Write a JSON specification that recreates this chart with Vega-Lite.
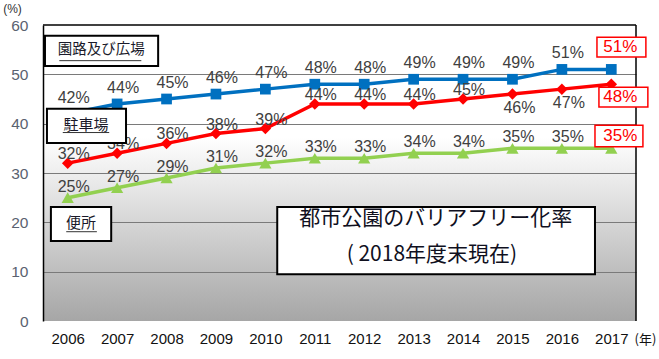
{
  "$schema": "https://vega.github.io/schema/vega-lite/v6.json",
  "width": 593,
  "height": 296,
  "autosize": {"type": "none"},
  "padding": {"left": 43, "top": 25, "right": 23, "bottom": 38},
  "background": "white",
  "view": {
    "stroke": null,
    "fill": {"gradient": "linear", "x1": 0, "y1": 0, "x2": 0, "y2": 1,
      "stops": [{"offset": 0, "color": "#ffffff"}, {"offset": 0.38, "color": "#ffffff"}, {"offset": 1, "color": "#a6a6a6"}]}
  },
  "config": {"font": "Liberation Sans"},
  "data": {"values": [
    {"year": 2006, "series": "園路及び広場", "value": 42, "label": "42%"},
    {"year": 2007, "series": "園路及び広場", "value": 44, "label": "44%"},
    {"year": 2008, "series": "園路及び広場", "value": 45, "label": "45%"},
    {"year": 2009, "series": "園路及び広場", "value": 46, "label": "46%"},
    {"year": 2010, "series": "園路及び広場", "value": 47, "label": "47%"},
    {"year": 2011, "series": "園路及び広場", "value": 48, "label": "48%"},
    {"year": 2012, "series": "園路及び広場", "value": 48, "label": "48%"},
    {"year": 2013, "series": "園路及び広場", "value": 49, "label": "49%"},
    {"year": 2014, "series": "園路及び広場", "value": 49, "label": "49%"},
    {"year": 2015, "series": "園路及び広場", "value": 49, "label": "49%"},
    {"year": 2016, "series": "園路及び広場", "value": 51, "label": "51%"},
    {"year": 2017, "series": "園路及び広場", "value": 51, "label": "51%"},
    {"year": 2006, "series": "駐車場", "value": 32, "label": "32%"},
    {"year": 2007, "series": "駐車場", "value": 34, "label": "34%"},
    {"year": 2008, "series": "駐車場", "value": 36, "label": "36%"},
    {"year": 2009, "series": "駐車場", "value": 38, "label": "38%"},
    {"year": 2010, "series": "駐車場", "value": 39, "label": "39%"},
    {"year": 2011, "series": "駐車場", "value": 44, "label": "44%"},
    {"year": 2012, "series": "駐車場", "value": 44, "label": "44%"},
    {"year": 2013, "series": "駐車場", "value": 44, "label": "44%"},
    {"year": 2014, "series": "駐車場", "value": 45, "label": "45%"},
    {"year": 2015, "series": "駐車場", "value": 46, "label": "46%"},
    {"year": 2016, "series": "駐車場", "value": 47, "label": "47%"},
    {"year": 2017, "series": "駐車場", "value": 48, "label": "48%"},
    {"year": 2006, "series": "便所", "value": 25, "label": "25%"},
    {"year": 2007, "series": "便所", "value": 27, "label": "27%"},
    {"year": 2008, "series": "便所", "value": 29, "label": "29%"},
    {"year": 2009, "series": "便所", "value": 31, "label": "31%"},
    {"year": 2010, "series": "便所", "value": 32, "label": "32%"},
    {"year": 2011, "series": "便所", "value": 33, "label": "33%"},
    {"year": 2012, "series": "便所", "value": 33, "label": "33%"},
    {"year": 2013, "series": "便所", "value": 34, "label": "34%"},
    {"year": 2014, "series": "便所", "value": 34, "label": "34%"},
    {"year": 2015, "series": "便所", "value": 35, "label": "35%"},
    {"year": 2016, "series": "便所", "value": 35, "label": "35%"},
    {"year": 2017, "series": "便所", "value": 35, "label": "35%"}
  ]},
  "layer": [
    {
      "mark": {"type": "line", "strokeWidth": 3.5},
      "encoding": {
        "x": {"field": "year", "type": "quantitative",
          "scale": {"domain": [2005.5, 2017.5], "nice": false, "zero": false},
          "axis": {"values": [2006, 2007, 2008, 2009, 2010, 2011, 2012, 2013, 2014, 2015, 2016, 2017], "format": "d",
            "labelFontSize": 15, "labelColor": "#111111", "labelPadding": 10, "ticks": false, "domain": false, "grid": false,
            "title": "(年)", "titleX": 602, "titleY": 18, "titleAlign": "center", "titleBaseline": "middle",
            "titleFont": "Noto Sans CJK JP", "titleFontSize": 13, "titleFontWeight": "normal", "titleColor": "#111111"}},
        "y": {"field": "value", "type": "quantitative",
          "scale": {"domain": [0, 60], "nice": false},
          "axis": {"values": [0, 10, 20, 30, 40, 50, 60], "labelFontSize": 15.5, "labelColor": "#5a6270", "labelPadding": 15,
            "ticks": false, "domain": true, "domainColor": "#000000", "domainWidth": 1.5,
            "grid": true, "gridColor": "#7a7a7a", "gridWidth": 1.2,
            "gridOpacity": {"condition": {"test": "datum.value == 0 || datum.value == 60", "value": 0}, "value": 1},
            "title": "(%)", "titleAngle": 0, "titleX": -31, "titleY": -17, "titleAlign": "center", "titleBaseline": "middle",
            "titleFontSize": 12, "titleFontWeight": "normal", "titleColor": "#333333"}},
        "color": {"field": "series", "type": "nominal",
          "scale": {"domain": ["園路及び広場", "駐車場", "便所"], "range": ["#0070C0", "#FF0000", "#92D050"]}, "legend": null}
      }
    },
    {
      "mark": {"type": "point", "filled": true, "opacity": 1},
      "encoding": {
        "x": {"field": "year", "type": "quantitative"},
        "y": {"field": "value", "type": "quantitative"},
        "color": {"field": "series", "type": "nominal", "legend": null},
        "shape": {"field": "series", "type": "nominal", "scale": {"domain": ["園路及び広場", "駐車場", "便所"], "range": ["square", "diamond", "triangle-up"]}, "legend": null},
        "size": {"field": "series", "type": "nominal", "scale": {"domain": ["園路及び広場", "駐車場", "便所"], "range": [115, 150, 140]}, "legend": null}
      }
    },
    {
      "data": {"values": [{}]},
      "mark": {"type": "rule", "color": "#000000", "strokeWidth": 1.5},
      "encoding": {"y": {"datum": 60, "type": "quantitative"}}
    },
    {
      "data": {"values": [{}]},
      "mark": {"type": "rule", "color": "#000000", "strokeWidth": 1.5},
      "encoding": {"x": {"datum": 2017.5, "type": "quantitative"}}
    },
    {
      "transform": [{"filter": "datum.series == '園路及び広場' && datum.year < 2017"}],
      "mark": {"type": "text", "fontSize": 16, "color": "#404040", "dx": 6, "dy": -16, "baseline": "middle"},
      "encoding": {"x": {"field": "year", "type": "quantitative"}, "y": {"field": "value", "type": "quantitative"}, "text": {"field": "label"}}
    },
    {
      "transform": [{"filter": "datum.series == '駐車場' && datum.year <= 2014"}],
      "mark": {"type": "text", "fontSize": 16, "color": "#404040", "dx": 6, "dy": -9, "baseline": "middle"},
      "encoding": {"x": {"field": "year", "type": "quantitative"}, "y": {"field": "value", "type": "quantitative"}, "text": {"field": "label"}}
    },
    {
      "transform": [{"filter": "datum.series == '駐車場' && (datum.year == 2015 || datum.year == 2016)"}],
      "mark": {"type": "text", "fontSize": 16, "color": "#404040", "dx": 7, "dy": 14, "baseline": "middle"},
      "encoding": {"x": {"field": "year", "type": "quantitative"}, "y": {"field": "value", "type": "quantitative"}, "text": {"field": "label"}}
    },
    {
      "transform": [{"filter": "datum.series == '便所' && datum.year < 2017"}],
      "mark": {"type": "text", "fontSize": 16, "color": "#404040", "dx": 6, "dy": -11, "baseline": "middle"},
      "encoding": {"x": {"field": "year", "type": "quantitative"}, "y": {"field": "value", "type": "quantitative"}, "text": {"field": "label"}}
    },
    {
      "data": {"values": [{}]},
      "mark": {"type": "rect", "fill": "#ffffff", "stroke": "#FF0000", "strokeWidth": 1.5},
      "encoding": {"x": {"datum": 2016.71, "type": "quantitative"}, "x2": {"datum": 2017.7}, "y": {"datum": 53.5, "type": "quantitative"}, "y2": {"datum": 57.5}}
    },
    {
      "data": {"values": [{}]},
      "mark": {"type": "rect", "fill": "#ffffff", "stroke": "#FF0000", "strokeWidth": 1.5},
      "encoding": {"x": {"datum": 2016.75, "type": "quantitative"}, "x2": {"datum": 2017.74}, "y": {"datum": 43.4, "type": "quantitative"}, "y2": {"datum": 47.4}}
    },
    {
      "data": {"values": [{}]},
      "mark": {"type": "rect", "fill": "#ffffff", "stroke": "#FF0000", "strokeWidth": 1.5},
      "encoding": {"x": {"datum": 2016.67, "type": "quantitative"}, "x2": {"datum": 2017.64}, "y": {"datum": 35.3, "type": "quantitative"}, "y2": {"datum": 39.7}}
    },
    {
      "transform": [{"filter": "datum.series == '園路及び広場' && datum.year == 2017"}],
      "mark": {"type": "text", "fontSize": 17, "color": "#FF0000", "dx": 9, "dy": -22, "baseline": "middle"},
      "encoding": {"x": {"field": "year", "type": "quantitative"}, "y": {"field": "value", "type": "quantitative"}, "text": {"field": "label"}}
    },
    {
      "transform": [{"filter": "datum.series == '駐車場' && datum.year == 2017"}],
      "mark": {"type": "text", "fontSize": 17, "color": "#FF0000", "dx": 9, "dy": 13, "baseline": "middle"},
      "encoding": {"x": {"field": "year", "type": "quantitative"}, "y": {"field": "value", "type": "quantitative"}, "text": {"field": "label"}}
    },
    {
      "transform": [{"filter": "datum.series == '便所' && datum.year == 2017"}],
      "mark": {"type": "text", "fontSize": 17, "color": "#FF0000", "dx": 9, "dy": -12, "baseline": "middle"},
      "encoding": {"x": {"field": "year", "type": "quantitative"}, "y": {"field": "value", "type": "quantitative"}, "text": {"field": "label"}}
    },
    {
      "data": {"values": [{}]},
      "mark": {"type": "rect", "fill": "#ffffff", "stroke": "#000000", "strokeWidth": 2},
      "encoding": {"x": {"datum": 2005.54, "type": "quantitative"}, "x2": {"datum": 2007.83}, "y": {"datum": 51.7, "type": "quantitative"}, "y2": {"datum": 57.8}}
    },
    {
      "data": {"values": [{}]},
      "mark": {"type": "text", "text": "園路及び広場", "font": "Noto Sans CJK JP", "fontSize": 14.5, "color": "#1a1a2a", "align": "center", "baseline": "middle"},
      "encoding": {"x": {"datum": 2006.68, "type": "quantitative"}, "y": {"datum": 54.9, "type": "quantitative"}}
    },
    {
      "data": {"values": [{}]},
      "mark": {"type": "rule", "color": "#333333", "strokeWidth": 1},
      "encoding": {"x": {"datum": 2005.83, "type": "quantitative"}, "x2": {"datum": 2007.49}, "y": {"datum": 52.77, "type": "quantitative"}}
    },
    {
      "data": {"values": [{}]},
      "mark": {"type": "rect", "fill": "#ffffff", "stroke": "#000000", "strokeWidth": 2},
      "encoding": {"x": {"datum": 2005.58, "type": "quantitative"}, "x2": {"datum": 2007.18}, "y": {"datum": 36.1, "type": "quantitative"}, "y2": {"datum": 43.0}}
    },
    {
      "data": {"values": [{}]},
      "mark": {"type": "text", "text": "駐車場", "font": "Noto Sans CJK JP", "fontSize": 15, "color": "#1a1a2a", "align": "center", "baseline": "middle"},
      "encoding": {"x": {"datum": 2006.37, "type": "quantitative"}, "y": {"datum": 39.8, "type": "quantitative"}}
    },
    {
      "data": {"values": [{}]},
      "mark": {"type": "rule", "color": "#333333", "strokeWidth": 1},
      "encoding": {"x": {"datum": 2005.9, "type": "quantitative"}, "x2": {"datum": 2006.84}, "y": {"datum": 38.2, "type": "quantitative"}}
    },
    {
      "data": {"values": [{}]},
      "mark": {"type": "rect", "fill": "#ffffff", "stroke": "#000000", "strokeWidth": 2},
      "encoding": {"x": {"datum": 2005.66, "type": "quantitative"}, "x2": {"datum": 2006.88}, "y": {"datum": 16.2, "type": "quantitative"}, "y2": {"datum": 23.1}}
    },
    {
      "data": {"values": [{}]},
      "mark": {"type": "text", "text": "便所", "font": "Noto Sans CJK JP", "fontSize": 15, "color": "#1a1a2a", "align": "center", "baseline": "middle"},
      "encoding": {"x": {"datum": 2006.27, "type": "quantitative"}, "y": {"datum": 19.9, "type": "quantitative"}}
    },
    {
      "data": {"values": [{}]},
      "mark": {"type": "rule", "color": "#333333", "strokeWidth": 1},
      "encoding": {"x": {"datum": 2005.97, "type": "quantitative"}, "x2": {"datum": 2006.59}, "y": {"datum": 18.1, "type": "quantitative"}}
    },
    {
      "data": {"values": [{}]},
      "mark": {"type": "rect", "fill": "#ffffff", "stroke": "#000000", "strokeWidth": 2},
      "encoding": {"x": {"datum": 2010.24, "type": "quantitative"}, "x2": {"datum": 2016.67}, "y": {"datum": 9.5, "type": "quantitative"}, "y2": {"datum": 23.1}}
    },
    {
      "data": {"values": [{}]},
      "mark": {"type": "text", "text": "都市公園のバリアフリー化率", "font": "Noto Sans CJK JP", "fontSize": 21, "color": "#10101e", "align": "center", "baseline": "middle"},
      "encoding": {"x": {"datum": 2013.45, "type": "quantitative"}, "y": {"datum": 20.6, "type": "quantitative"}}
    },
    {
      "data": {"values": [{}]},
      "mark": {"type": "text", "text": "( 2018年度末現在)", "font": "Noto Sans CJK JP", "fontSize": 21, "color": "#10101e", "align": "center", "baseline": "middle"},
      "encoding": {"x": {"datum": 2013.37, "type": "quantitative"}, "y": {"datum": 13.4, "type": "quantitative"}}
    }
  ]
}
